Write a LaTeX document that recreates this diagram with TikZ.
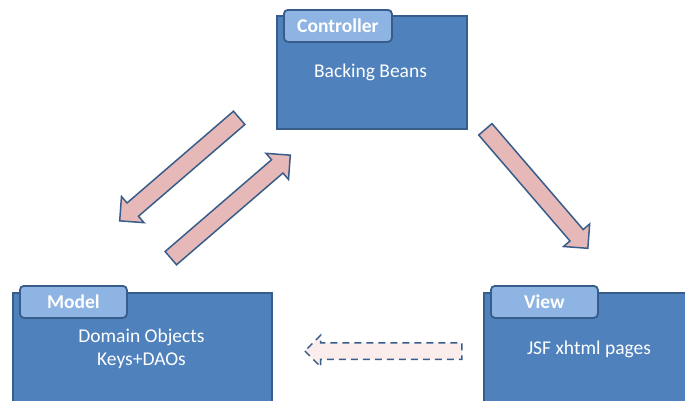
\documentclass[tikz,border=0pt]{standalone}
\usepackage{fontspec}
\setmainfont{Carlito}
\usetikzlibrary{shapes.arrows,calc}
\definecolor{mvcbox}{RGB}{79,129,189}
\definecolor{mvcline}{RGB}{56,93,138}
\definecolor{mvctab}{RGB}{141,180,226}
\definecolor{mvcarrow}{RGB}{230,185,184}
\definecolor{mvcghost}{RGB}{252,237,237}

\begin{document}
\begin{tikzpicture}[x=1pt,y=-1pt,line width=1.8pt,
  pane/.style={draw=mvcline,fill=mvcbox,anchor=north west,inner sep=0pt},
  tab/.style={draw=mvcline,fill=mvctab,rounded corners=4pt,anchor=north west,
    inner sep=0pt,minimum height=32pt,text=white,font=\fontsize{19.5}{23}\selectfont\bfseries},
  note/.style={text=white,align=center,font=\fontsize{19.5}{23}\selectfont},
  fat/.style={single arrow,draw=mvcline,fill=mvcarrow,inner xsep=0pt,inner ysep=8pt,
    line width=1.5pt,single arrow head extend=8.5pt}]
  \useasboundingbox (0,0) rectangle (685,400);
  \clip (0,0) rectangle (685,400);
  % packages
  \node[pane,minimum width=190pt,minimum height=113pt] (ctrl) at (276,15) {};
  \node[pane,minimum width=259pt,minimum height=130pt] (model) at (12,292) {};
  \node[pane,minimum width=220pt,minimum height=130pt] (view) at (483,292) {};
  \node[tab,minimum width=108pt] (ctrltab) at (283,9) {Controller};
  \node[tab,minimum width=107pt] (modeltab) at (19,285) {Model};
  \node[tab,minimum width=107pt] (viewtab) at (490,285) {View};
  % contents
  \node[note] (beans) at (370.5,72) {Backing Beans};
  \node[note] (domain) at (141.5,348.5) {Domain Objects\\Keys+DAOs};
  \node[note] (pages) at (589,349) {JSF xhtml pages};
  % arrow ends
  \coordinate (c1) at (242.5,115);
  \coordinate (m1) at (123,218);
  \coordinate (m2) at (167.5,261);
  \coordinate (c2) at (287,158);
  \coordinate (c3) at (482.5,126);
  \coordinate (v1) at (585,245);
  \coordinate (v2) at (466,351);
  \coordinate (m3) at (309,351);
  \foreach \a/\b in {c1/m1,m2/c2,c3/v1} {
    \path let \p1=($(\b)-(\a)$), \n1={veclen(\x1,\y1)}, \n2={atan2(\y1,\x1)} in
      node[fat,minimum height=\n1,rotate=\n2] at ($(\a)!0.5!(\b)$) {};
  }
  \path let \p1=($(m3)-(v2)$), \n1={veclen(\x1,\y1)} in
    node[fat,fill=mvcghost,dash pattern=on 7pt off 5pt,inner ysep=7.5pt,
      single arrow head extend=7.5pt,minimum height=\n1,rotate=180] (back) at ($(v2)!0.5!(m3)$) {};
\end{tikzpicture}
\end{document}
